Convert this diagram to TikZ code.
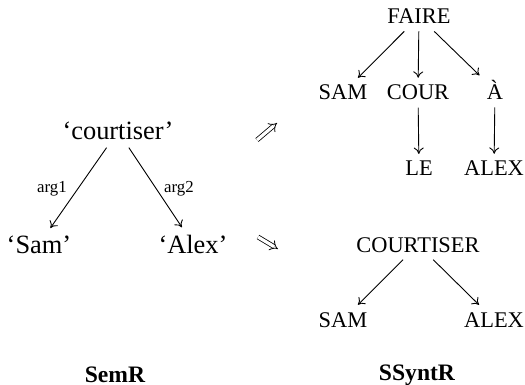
\documentclass[tikz,border=0pt]{standalone}
\usepackage{fontspec}
\setmainfont{Liberation Serif}
\usetikzlibrary{arrows.meta}

\begin{document}
\begin{tikzpicture}[
  x=0.5pt, y=-0.5pt,
  >={To[length=3.2pt,width=5pt]},
  sem/.style={anchor=base, inner sep=3.5pt, font=\fontsize{13.2}{15}\selectfont},
  synt/.style={anchor=base, inner sep=3.5pt, font=\fontsize{11.2}{13}\selectfont},
  lbl/.style={anchor=base, font=\fontsize{8.4}{10}\selectfont},
  title/.style={anchor=base, font=\fontsize{11.8}{14}\selectfont\bfseries},
  arr/.style={->, line width=0.45pt},
  impl/.style={double, double distance=1.6pt, line width=0.4pt, -{Implies}},
]
  \useasboundingbox (0,0) rectangle (525,385);

  % SemR
  \node[sem] (court) at (118,140) {`courtiser'};
  \node[sem] (sam) at (39,253) {`Sam'};
  \node[sem] (alex) at (193,253) {`Alex'};
  \draw[arr] (court) -- (sam);
  \draw[arr] (court) -- (alex);
  \node[lbl] (arg1) at (52,192) {arg1};
  \node[lbl] (arg2) at (179,192) {arg2};

  % Transitions
  \coordinate (up0) at (257,140);
  \coordinate (up1) at (277,123);
  \coordinate (dn0) at (258,237);
  \coordinate (dn1) at (278,249);
  \draw[impl] (up0) -- (up1);
  \draw[impl] (dn0) -- (dn1);

  % SSyntR, first tree
  \node[synt] (faire) at (419,24) {FAIRE};
  \node[synt] (samA) at (343,100) {SAM};
  \node[synt] (cour) at (418,100) {COUR};
  \node[synt] (a) at (495,100) {À};
  \node[synt] (le) at (419,176) {LE};
  \node[synt] (alexA) at (494,176) {ALEX};
  \draw[arr] (faire) -- (samA);
  \draw[arr] (faire) -- (cour);
  \draw[arr] (faire) -- (a);
  \draw[arr] (cour) -- (le);
  \draw[arr] (a) -- (alexA);

  % SSyntR, second tree
  \node[synt] (courts) at (418,252) {COURTISER};
  \node[synt] (samB) at (343,327) {SAM};
  \node[synt] (alexB) at (494,327) {ALEX};
  \draw[arr] (courts) -- (samB);
  \draw[arr] (courts) -- (alexB);

  % Titles
  \node[title] (semr) at (115,382) {SemR};
  \node[title] (ssyntr) at (417,380) {SSyntR};
\end{tikzpicture}
\end{document}
